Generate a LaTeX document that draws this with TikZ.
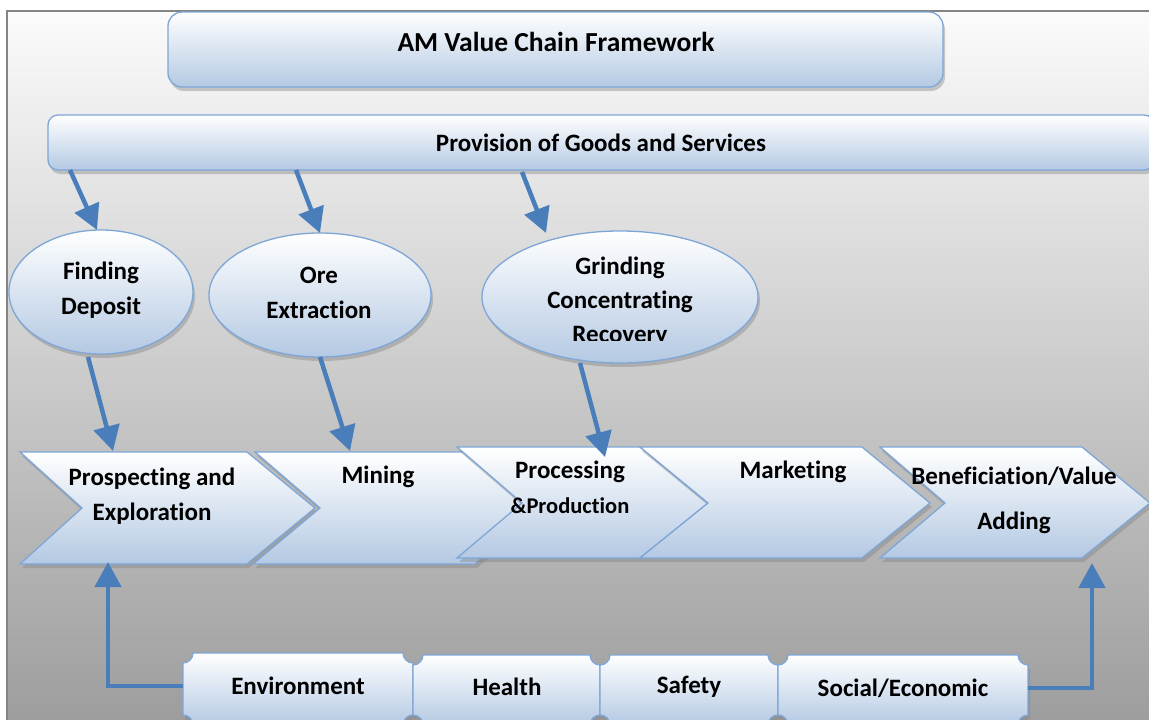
\documentclass[tikz,border=0pt]{standalone}
\usepackage{fontspec}
\setmainfont{Carlito}[Ligatures=NoCommon]
\usetikzlibrary{arrows.meta,shapes.geometric,shadows}
\definecolor{bord}{HTML}{7EA6D6}
\definecolor{fillb}{HTML}{B4C9E3}
\definecolor{arr}{HTML}{4A7EBB}
\definecolor{frameg}{HTML}{858585}
\definecolor{bgtop}{HTML}{FBFBFB}
\definecolor{bgbot}{HTML}{9C9C9C}
\newcommand\ticketshape[4]{%
\path[panel] ({#1+10},#3) -- ({#2-10},#3) .. controls ({#2-10},{#3+5.5}) and ({#2-5.5},{#3+10}) .. (#2,{#3+10})
 -- (#2,{#4-10}) .. controls ({#2-5.5},{#4-10}) and ({#2-10},{#4-5.5}) .. ({#2-10},#4)
 -- ({#1+10},#4) .. controls ({#1+10},{#4-5.5}) and ({#1+5.5},{#4-10}) .. (#1,{#4-10})
 -- (#1,{#3+10}) .. controls ({#1+5.5},{#3+10}) and ({#1+10},{#3+5.5}) .. ({#1+10},#3) -- cycle;}
\begin{document}
\begin{tikzpicture}[x=1pt,y=-1pt,
  panel/.style={draw=bord, line width=1.3pt, top color=white, bottom color=fillb,
    drop shadow={shadow xshift=2pt, shadow yshift=-4pt, opacity=0.4}},
  lbl/.style={font=\fontsize{25}{35}\selectfont\bfseries, align=center, inner sep=0pt},
  conn/.style={draw=arr, line width=4.5pt, -{Triangle[width=26pt,length=25pt]}},
]
\useasboundingbox (0,0) rectangle (1149,720);
% background
\fill[white] (0,0) rectangle (1149,720);
\fill[top color=bgtop, bottom color=bgbot] (7,11) rectangle (1160,730);
\draw[frameg, line width=2pt] (7,730) -- (7,11) -- (1160,11);

% title and provision
\node[panel, rounded corners=14pt, minimum width=775pt, minimum height=75pt] (titlebox) at (555.5,49.5) {};
\node[lbl, font=\fontsize{27.5}{35}\selectfont\bfseries] (title) at (556,42) {AM Value Chain Framework};
\node[panel, rounded corners=10pt, minimum width=1106pt, minimum height=55pt] (prov) at (601,142.5) {};
\node[lbl] (provt) at (601,143) {Provision of Goods and Services};

% ellipses
\node[panel, ellipse, minimum width=184pt, minimum height=124pt, inner sep=0pt] (fd) at (101,292) {};
\node[lbl] (fdt) at (101,290) {Finding\\Deposit};
\node[panel, ellipse, minimum width=222pt, minimum height=124pt, inner sep=0pt] (oe) at (320,295) {};
\node[lbl] (oet) at (319,293) {Ore\\Extraction};
\node[panel, ellipse, minimum width=276pt, minimum height=132pt, inner sep=0pt] (gc) at (620,297) {};
\node[lbl] (gct1) at (620,268) {Grinding};
\node[lbl] (gct2) at (620,302) {Concentrating};
\begin{scope}
\clip (500,320) rectangle (740,340.5);
\node[lbl] (gct3) at (620,336) {Recovery};
\end{scope}

% chevrons
\path[panel] (20,452) -- (247,452) -- (315,508) -- (247,564) -- (20,564) -- (82,508) -- cycle;
\node[lbl] (pe) at (152,496) {Prospecting and\\Exploration};
\path[panel] (255,452) -- (475,452) -- (540,508) -- (475,564) -- (253,564) -- (320,508) -- cycle;
\node[lbl] (mi) at (378,477) {Mining};
\path[panel] (457,447) -- (640,447) -- (708,503) -- (640,558) -- (457,558) -- (522,503) -- cycle;
\node[lbl] (pp1) at (570,472) {Processing};
\node[lbl, font=\fontsize{22.5}{30}\selectfont\bfseries] (pp2) at (570,506) {\&Production};
\path[panel] (640,447) -- (862,447) -- (930,503) -- (862,558) -- (640,558) -- (708,503) -- cycle;
\node[lbl] (mk) at (793,472) {Marketing};
\path[panel] (880,447) -- (1082,447) -- (1150,503) -- (1082,558) -- (880,558) -- (945,503) -- cycle;
\node[lbl] (bv) at (1014,500) {Beneficiation/Value\\[10pt]Adding};

% bottom tickets
\ticketshape{183}{413}{653}{725}
\ticketshape{413}{600}{655}{725}
\ticketshape{600}{778}{655}{725}
\ticketshape{778}{1028}{655}{725}
\node[lbl] (env) at (298,686) {Environment};
\node[lbl] (hea) at (507,687) {Health};
\node[lbl] (saf) at (689,687) {Safety};
\node[lbl] (soc) at (903,688) {Social/Economic};

% connector anchor points
\coordinate (p1) at (70,170);   \coordinate (fdtop) at (97,230);
\coordinate (p2) at (296,170);  \coordinate (oetop) at (320,233);
\coordinate (p3) at (522,172);  \coordinate (gctop) at (546,233);
\coordinate (fdbot) at (88,357);  \coordinate (petop) at (113,451);
\coordinate (oebot) at (320,357); \coordinate (mitop) at (350,451);
\coordinate (gcbot) at (580,363); \coordinate (pptop) at (605,457);
\coordinate (envL) at (183,686);  \coordinate (pebot) at (108,562);
\coordinate (socR) at (1028,688); \coordinate (bvbot) at (1092,563);

% connectors
\draw[conn] (p1) -- (fdtop);
\draw[conn] (p2) -- (oetop);
\draw[conn] (p3) -- (gctop);
\draw[conn] (fdbot) -- (petop);
\draw[conn] (oebot) -- (mitop);
\draw[conn] (gcbot) -- (pptop);
\draw[conn] (envL) -- (108,686) -- (pebot);
\draw[conn] (socR) -- (1092,688) -- (bvbot);
\end{tikzpicture}
\end{document}
